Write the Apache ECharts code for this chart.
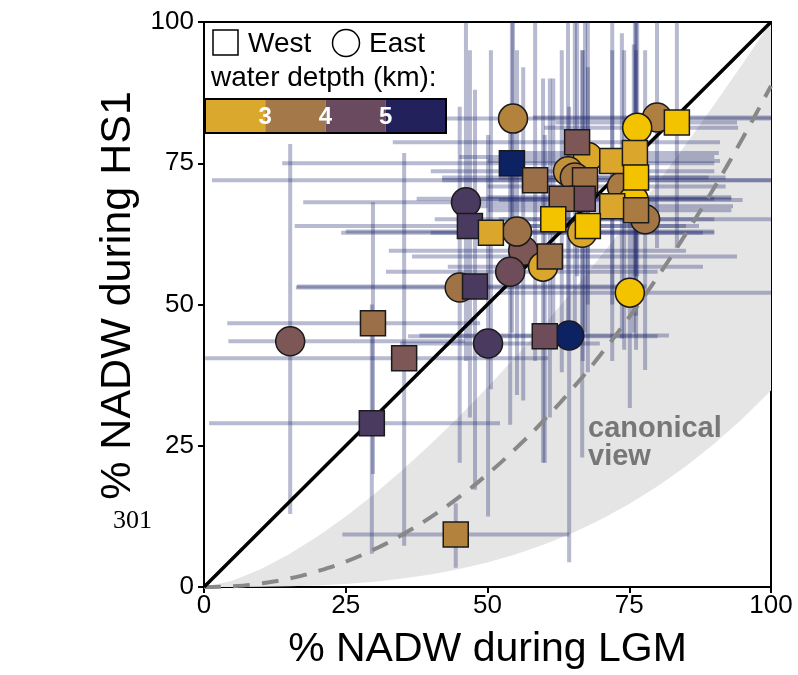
<!DOCTYPE html>
<html><head><meta charset="utf-8">
<script src="https://cdn.jsdelivr.net/npm/echarts@6/dist/echarts.min.js"></script>
<style>html,body{margin:0;padding:0;background:#fff}#c{width:798px;height:675px}</style>
</head><body><div id="c"></div>
<script>
// ---- West sites (squares) ----
const westX   = [29.8, 29.6, 35.3, 44.4, 60.1, 47.8, 46.9, 50.6, 54.3, 58.4, 61.0, 65.8, 67.2, 66.8, 63.1, 61.6, 72.0, 76.0, 76.2, 83.4, 72.0, 76.2, 67.7];
const westY   = [46.7, 29.0, 40.5,  9.3, 44.4, 53.2, 63.9, 62.7, 75.0, 72.0, 58.5, 78.7, 72.0, 68.7, 68.7, 65.1, 75.4, 76.8, 72.5, 82.2, 67.4, 66.7, 63.9];
const westD   = [4.0, 5.0, 4.35, 3.5, 4.5, 5.0, 5.0, 3.0, 5.5, 4.0, 4.0, 4.35, 3.9, 4.5, 4.1, 2.5, 3.0, 3.0, 2.5, 2.5, 3.0, 3.7, 2.5];
const westXLo = [4.1, 0.9, 0.2, 24.4, 36, 16.4, 16, 24.2, 13.8, 1.4, 36.7, 33.3, 42, 45, 37.5, 40.7, 50, 55, 52, 62, 48, 50, 45];
const westXHi = [48.7, 52.2, 60.7, 64.4, 80, 78, 85, 88, 90, 100, 94, 91, 100, 90, 93, 90, 91, 90.8, 89, 94, 93.3, 93, 87.3];
const westYLo = [20, 5.9, 7.3, 3.4, 22, 17.2, 30, 35, 45, 40, 30, 55, 45, 40, 38, 42, 50, 55, 48, 60, 40, 42, 38];
const westYHi = [68.1, 50, 76.8, 14.8, 80, 88, 95, 95, 100, 100, 90, 100, 100, 95, 95, 90, 100, 100, 100, 100, 95, 95, 92];
// ---- East sites (circles) ----
const eastX   = [15.2, 50.1, 64.4, 75.1, 54.5, 46.2, 56.3, 55.2, 54.0, 59.8, 45.1, 66.7, 77.8, 79.9, 76.4, 67.7, 64.2, 65.4, 74.1, 73.7, 75.8];
const eastY   = [43.5, 43.1, 44.5, 52.1, 82.9, 68.1, 59.5, 62.9, 55.8, 56.7, 53.0, 62.7, 65.1, 83.1, 81.3, 76.1, 73.6, 72.5, 69.0, 70.9, 68.5];
const eastD   = [4.35, 5.0, 5.5, 2.5, 3.5, 5.0, 4.35, 3.95, 4.5, 3.0, 3.9, 3.0, 3.85, 3.6, 2.5, 3.0, 3.3, 3.8, 2.8, 3.7, 2.5];
const eastXLo = [4.3, 34.6, 38, 52, 30, 17.5, 32.6, 25, 32.1, 43, 16.2, 40, 52, 58, 60, 45, 40, 42, 50, 50, 52];
const eastXHi = [46, 69.8, 82, 100, 100, 80, 85, 90, 80, 88, 75, 90, 100, 100, 94.2, 90, 90, 92, 93, 92, 95];
const eastYLo = [12.9, 12.5, 4.4, 31.7, 60, 40, 33, 34, 28.7, 22, 22, 22.9, 38.4, 60, 55, 50, 45, 46, 42, 44, 45];
const eastYHi = [78.4, 80, 85, 80, 100, 100, 92, 95, 85, 90, 85, 95, 95, 100, 100, 100, 100, 100, 95, 98, 96];
// ---- reference curves ----
const diagX = [0, 100];
const diagY = [0, 100];
const bandX    = [0, 5, 10, 15, 20, 25, 30, 35, 40, 45, 50, 55, 60, 65, 70, 75, 80, 85, 90, 95, 100];
const bandHigh = [0, 1.12, 3.16, 5.81, 8.94, 12.5, 16.43, 20.71, 25.3, 30.19, 35.36, 40.79, 46.48, 52.4, 58.57, 64.95, 71.55, 78.37, 85.38, 92.6, 100];
const bandLow  = [0, 0.004, 0.035, 0.117, 0.278, 0.544, 0.94, 1.49, 2.23, 3.17, 4.35, 5.79, 7.52, 9.56, 11.94, 14.68, 17.82, 21.37, 25.37, 29.84, 34.8];
const canonY   = [0, 0.14, 0.63, 1.5, 2.79, 4.5, 6.66, 9.29, 12.37, 15.93, 19.98, 24.53, 29.57, 35.13, 41.2, 47.78, 54.9, 62.54, 70.72, 79.44, 88.7];
// ---- axis ticks / legend ----
const xTicks = [0, 25, 50, 75, 100];
const yTicks = [0, 25, 50, 75, 100];
const depthLabels = ['3', '4', '5'];
const depthBarColors = ['#dba82e', '#a47848', '#6a4a5e', '#22215c'];

const FONT = 'Liberation Sans';
const zip = (...arrs) => arrs[0].map((_, i) => arrs.map(a => a[i]));
const errData = zip(westX.concat(eastX), westY.concat(eastY), westXLo.concat(eastXLo), westXHi.concat(eastXHi), westYLo.concat(eastYLo), westYHi.concat(eastYHi));
const barStyle = { stroke: 'rgba(30,40,110,0.32)', lineWidth: 4 };

const chart = echarts.init(document.getElementById('c'));

const legendEls = [];
legendEls.push({ type: 'rect', z: 100, shape: { x: 205.5, y: 23, width: 241, height: 110 }, style: { fill: '#fff' } });
legendEls.push({ type: 'rect', z: 101, shape: { x: 213, y: 30, width: 25, height: 25 }, style: { fill: '#fff', stroke: '#000', lineWidth: 1.5 } });
legendEls.push({ type: 'text', z: 101, x: 248, y: 44, style: { text: 'West', fontSize: 28, fontFamily: FONT, fill: '#000', verticalAlign: 'middle' } });
legendEls.push({ type: 'circle', z: 101, shape: { cx: 346, cy: 43, r: 13.5 }, style: { fill: '#fff', stroke: '#000', lineWidth: 1.5 } });
legendEls.push({ type: 'text', z: 101, x: 369, y: 44, style: { text: 'East', fontSize: 28, fontFamily: FONT, fill: '#000', verticalAlign: 'middle' } });
legendEls.push({ type: 'text', z: 101, x: 211, y: 78, style: { text: 'water detpth (km):', fontSize: 28, fontFamily: FONT, fill: '#000', verticalAlign: 'middle' } });
const segW = 60.25;
depthBarColors.forEach((c, i) => {
  legendEls.push({ type: 'rect', z: 101, shape: { x: 205 + i * segW, y: 99, width: segW, height: 34 }, style: { fill: c } });
});
legendEls.push({ type: 'rect', z: 102, shape: { x: 205, y: 99, width: 241, height: 34 }, style: { fill: 'none', stroke: '#000', lineWidth: 2 } });
depthLabels.forEach((t, i) => {
  legendEls.push({ type: 'text', z: 103, x: 205 + (i + 1) * segW, y: 117, style: { text: t, fontSize: 24, fontWeight: 'bold', fontFamily: FONT, fill: '#fff', align: 'center', verticalAlign: 'middle' } });
});
legendEls.push({ type: 'text', z: 101, x: 588, y: 415, style: { text: 'canonical\nview', fontSize: 29, lineHeight: 28, fontWeight: 'bold', fontFamily: FONT, fill: '#777' } });
legendEls.push({ type: 'text', z: 101, x: 113, y: 521, style: { text: '301', fontSize: 26, fontFamily: 'Liberation Serif', fill: '#000', verticalAlign: 'middle' } });

const axisCommon = {
  type: 'value', min: 0, max: 100, interval: 25,
  splitLine: { show: false },
  axisLine: { onZero: false, lineStyle: { color: '#000', width: 2 } },
  axisTick: { length: 6, lineStyle: { color: '#000', width: 2 } },
  nameLocation: 'middle'
};

chart.setOption({
  animation: false,
  grid: { left: 204, right: 27, top: 22, bottom: 85, show: true, borderColor: '#000', borderWidth: 2 },
  xAxis: Object.assign({}, axisCommon, {
    name: '% NADW during LGM', nameGap: 42,
    nameTextStyle: { fontSize: 41, color: '#000', fontFamily: FONT },
    axisLabel: { fontSize: 26, color: '#000', fontFamily: FONT, margin: 6, formatter: v => xTicks.includes(v) ? String(v) : '' }
  }),
  yAxis: Object.assign({}, axisCommon, {
    name: '% NADW during HS1', nameGap: 62,
    nameTextStyle: { fontSize: 43, color: '#000', fontFamily: FONT, padding: [0, 0, 0, 18] },
    axisLabel: { fontSize: 26, color: '#000', fontFamily: FONT, margin: 10, formatter: v => yTicks.includes(v) ? String(v) : '' }
  }),
  visualMap: {
    show: false, type: 'continuous', min: 2.5, max: 5.5, dimension: 2, seriesIndex: [5, 6],
    inRange: { color: ['#f4c300', '#dba62c', '#b3833e', '#9b6f48', '#6e4c5a', '#4a3a60', '#0c2262'] }
  },
  graphic: { elements: legendEls },
  series: [
    {
      type: 'custom', z: 1, clip: true, silent: true, data: [[0, 0]],
      renderItem: (p, api) => {
        const pts = bandX.map((x, i) => api.coord([x, bandHigh[i]]));
        for (let i = bandX.length - 1; i >= 0; i--) pts.push(api.coord([bandX[i], bandLow[i]]));
        return { type: 'polygon', shape: { points: pts }, style: { fill: '#e5e5e5' } };
      }
    },
    {
      type: 'custom', z: 2, clip: true, silent: true, data: errData,
      encode: { x: [0, 2, 3], y: [1, 4, 5] },
      renderItem: (p, api) => {
        const x = api.value(0), y = api.value(1);
        const a = api.coord([api.value(2), y]), b = api.coord([api.value(3), y]);
        const c = api.coord([x, api.value(4)]), d = api.coord([x, api.value(5)]);
        return { type: 'group', children: [
          { type: 'line', shape: { x1: a[0], y1: a[1], x2: b[0], y2: b[1] }, style: barStyle },
          { type: 'line', shape: { x1: c[0], y1: c[1], x2: d[0], y2: d[1] }, style: barStyle }
        ] };
      }
    },
    {
      type: 'line', z: 3, silent: true, symbol: 'none', data: zip(bandX, canonY), smooth: true,
      lineStyle: { color: '#888', width: 4, type: [17, 12] }
    },
    {
      type: 'line', z: 3, silent: true, symbol: 'none', data: zip(diagX, diagY),
      lineStyle: { color: '#000', width: 3.5 }
    },
    { type: 'scatter', z: 3, data: [] },
    {
      type: 'scatter', z: 4, symbol: 'circle', symbolSize: 29, silent: true,
      data: zip(eastX, eastY, eastD),
      itemStyle: { borderColor: '#1a1a1a', borderWidth: 1.5, opacity: 1 }
    },
    {
      type: 'scatter', z: 5, symbol: 'rect', symbolSize: 25, silent: true,
      data: zip(westX, westY, westD),
      itemStyle: { borderColor: '#1a1a1a', borderWidth: 1.5, opacity: 1 }
    }
  ]
});
</script>
</body></html>
